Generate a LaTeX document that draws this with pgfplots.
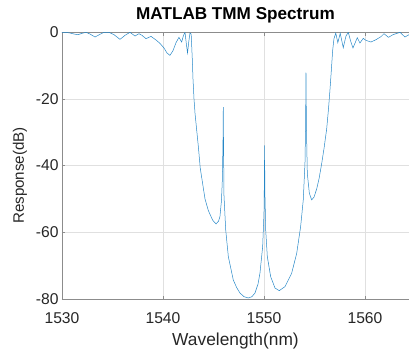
\documentclass[border=0pt]{standalone}
\usepackage{pgfplots}
\pgfplotsset{compat=1.18}
\usepackage{fontspec}
\setmainfont{Liberation Sans}
\definecolor{mlblue}{RGB}{0,114,189}
\definecolor{mltext}{RGB}{38,38,38}
\begin{document}
\begin{tikzpicture}
\begin{axis}[
  at={(0,0)}, anchor=south west,
  scale only axis, width=347bp, height=267bp,
  xmin=1530, xmax=1564.36, ymin=-80, ymax=0,
  axis y line*=left, axis x line*=box,
  axis line style={black!45, line width=0.5bp},
  tick align=inside, major tick length=3.5bp,
  tick style={black!45, line width=0.5bp},
  xtick={1530,1540,1550,1560}, xticklabels={1530,1540,1550,1560},
  ytick={-80,-60,-40,-20,0}, yticklabels={-80,-60,-40,-20,0},
  grid=major, major grid style={black!12, line width=0.5bp},
  tick label style={font=\fontsize{15.7}{18}\selectfont, text=mltext},
  xticklabel style={anchor=base, yshift=-24.3bp},
  xlabel={Wavelength(nm)}, ylabel={Response(dB)},
  every axis x label/.style={at={(axis description cs:0.5,0)}, anchor=base, yshift=-46.5bp, font=\fontsize{17.4}{20}\selectfont, text=mltext},
  every axis y label/.style={at={(axis description cs:-0.121,0.463)}, rotate=90, anchor=center, font=\fontsize{15.2}{18}\selectfont, text=mltext},
  title={MATLAB TMM Spectrum},
  title style={at={(axis description cs:0.5,1)}, anchor=base, yshift=7bp, font=\bfseries\fontsize{17.2}{20}\selectfont},
]
\addplot[mlblue!85, line width=0.5bp] table {
x y
1530.00 -0.1
1530.40 -0.1
1530.79 -0.3
1531.19 -0.6
1531.58 -0.8
1531.98 -0.4
1532.38 -0.1
1532.77 -0.6
1533.27 -1.5
1533.76 -0.7
1534.16 -0.1
1534.65 -0.1
1535.15 -0.8
1535.74 -2.2
1536.24 -1.0
1536.73 -0.1
1537.23 -1.2
1537.62 -0.5
1537.92 -1.0
1538.32 -2.0
1538.81 -1.3
1539.31 -2.4
1539.70 -3.4
1540.10 -4.8
1540.40 -6.3
1540.69 -7.0
1540.99 -5.6
1541.29 -3.2
1541.58 -1.6
1541.85 -3.0
1542.03 -1.0
1542.18 -0.1
1542.31 -3.5
1542.43 -6.3
1542.55 -3.0
1542.67 -0.3
1542.79 -0.6
1542.90 -8
1542.97 -14
1543.07 -20
1543.17 -24.3
1543.34 -29.5
1543.50 -34.3
1543.69 -40.8
1543.93 -45.5
1544.16 -50
1544.49 -53.5
1544.92 -56.4
1545.25 -57.5
1545.50 -56.7
1545.64 -55.3
1545.79 -50.5
1545.88 -44
1545.94 -33
1545.97 -22.5
1546.00 -35
1546.04 -49
1546.21 -59.3
1546.47 -67.3
1546.96 -74.3
1547.30 -76.6
1547.62 -78.2
1548.02 -79.3
1548.45 -79.7
1548.81 -79.3
1549.11 -78.2
1549.41 -75.5
1549.60 -72.3
1549.87 -64.3
1550.00 -54.3
1550.04 -44
1550.06 -34
1550.09 -48
1550.17 -59.3
1550.33 -67.3
1550.66 -73.3
1551.09 -76.7
1551.51 -77.5
1552.08 -76.3
1552.74 -72.3
1553.24 -66.3
1553.63 -58.3
1553.89 -50.3
1554.06 -39.3
1554.12 -28
1554.16 -12.2
1554.20 -28
1554.29 -42.3
1554.49 -48.3
1554.72 -50.3
1554.95 -49.5
1555.22 -47
1555.45 -44
1555.71 -39.5
1555.94 -35
1556.21 -29
1556.39 -23
1556.53 -17.5
1556.68 -11
1556.80 -5.5
1556.93 -2.0
1557.11 -0.3
1557.31 -3.2
1557.55 -0.4
1557.85 -4.7
1558.12 -1.2
1558.35 -0.1
1558.56 -2.5
1558.81 -4.8
1559.06 -3
1559.24 -1.7
1559.50 -3.3
1559.83 -1.9
1560.10 -2.5
1560.59 -3.0
1561.09 -2.3
1561.58 -1.4
1561.88 -0.5
1562.33 -1.6
1562.77 -0.8
1563.17 -0.4
1563.47 -0.1
1563.96 -1.5
1564.36 -0.8
};
\end{axis}
\pgfresetboundingbox
\path[use as bounding box] (-62bp,-53bp) rectangle (347bp,299bp);
\end{tikzpicture}
\end{document}
